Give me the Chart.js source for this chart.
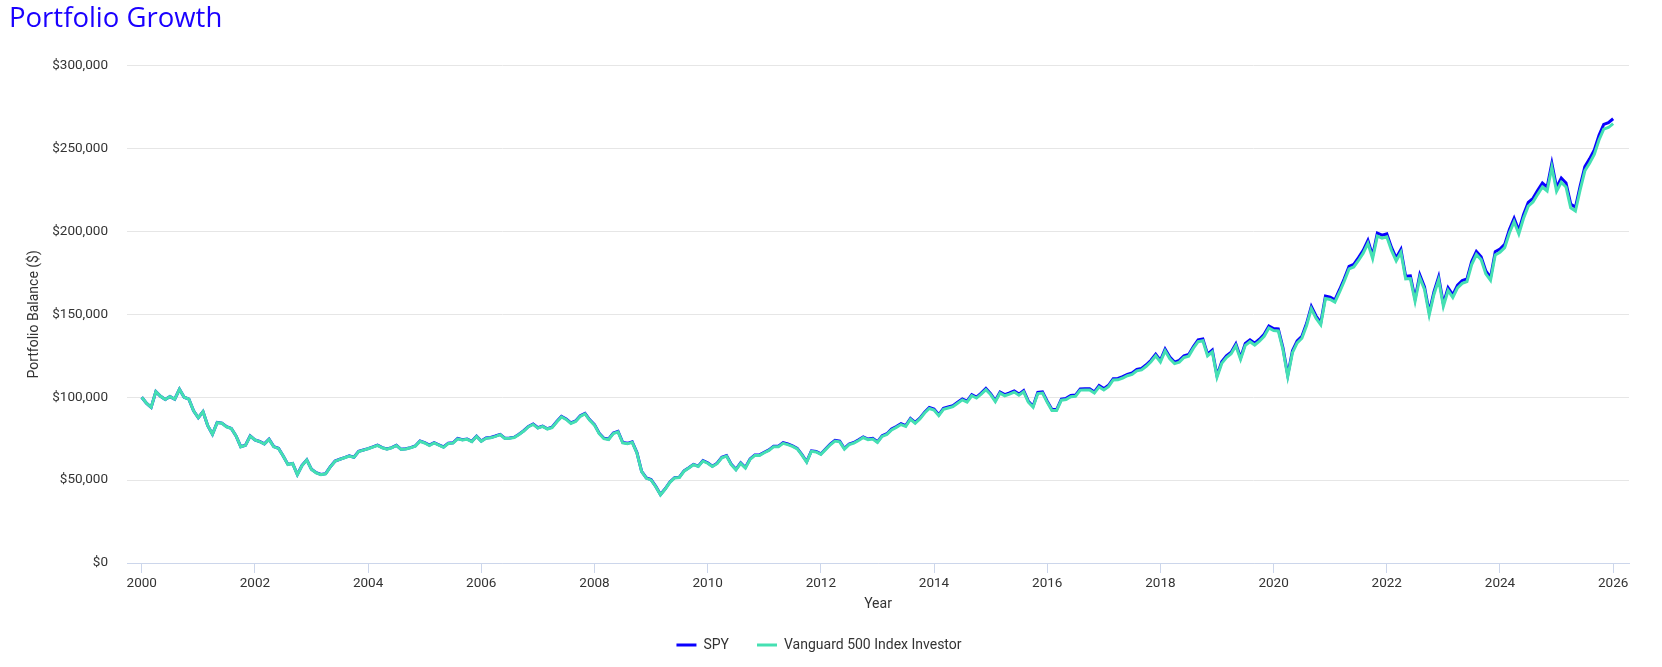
<!DOCTYPE html>
<html>
<head>
<meta charset="utf-8">
<script src="https://cdn.jsdelivr.net/npm/chart.js@4.4.1/dist/chart.umd.min.js"></script>
<style>
  html, body { margin: 0; padding: 0; background: #fff; }
  canvas { display: block; }
</style>
</head>
<body>
<canvas id="growthChart" width="1662" height="667"></canvas>
<script>
// month-end balances, Jan 2000 start -> Dec 2025
const startYear = 2000;
const spyValues = [
  100000, 96400, 93900, 103400, 100600, 98600, 100400, 98800, 104800, 100000, 98800, 91800, 87600,
  91300, 82800, 77700, 84800, 84400, 82200, 81200, 76700, 70200, 71100, 76700, 74300,
  73300, 71900, 74700, 70200, 69200, 64600, 59500, 60100, 53400, 58900, 62200, 56500,
  54500, 53400, 53900, 58100, 61500, 62600, 63600, 64600, 63800, 67400, 68200, 69000,
  70000, 71100, 69600, 68800, 69600, 71000, 68600, 68900, 69600, 70600, 73600, 72600,
  71100, 72600, 71300, 70000, 72300, 72500, 75100, 74400, 74800, 73400, 76500, 73600,
  75400, 75700, 76600, 77600, 75300, 75400, 75900, 77700, 79800, 82400, 83900, 81600,
  82600, 81000, 81900, 85400, 88400, 86900, 84500, 85700, 88800, 90200, 86400, 83500,
  78300, 75300, 74800, 78400, 79400, 72700, 72200, 73100, 66600, 55300, 51300, 50300,
  46200, 41300, 44800, 48900, 51500, 51800, 55600, 57500, 59500, 58400, 61800, 60500,
  58400, 60200, 63800, 64800, 59600, 56500, 60400, 57600, 62800, 65200, 65200, 66800,
  68200, 70500, 70500, 72600, 71800, 70600, 69100, 65400, 61100, 67700, 67300, 65800,
  68800, 71700, 74000, 73500, 69100, 71800, 72700, 74300, 76100, 74800, 75200, 73100,
  76800, 78000, 80800, 82300, 84000, 82900, 87200, 84800, 87400, 91000, 93800, 92900,
  89400, 93300, 94100, 94900, 97000, 99000, 97700, 101500, 100100, 102500, 105300, 102200,
  98000, 103200, 101600, 102600, 103800, 101900, 104000, 97600, 94600, 102900, 103200, 97600,
  92600, 92600, 98900, 99300, 101000, 101300, 105000, 105100, 105100, 103200, 107000, 105200,
  107200, 111200, 111300, 112400, 113800, 114600, 116800, 117400, 119600, 122300, 126000, 122200,
  129000, 124200, 121200, 122200, 125000, 125800, 130600, 134600, 135200, 126000, 128400, 113000,
  121400, 125000, 127200, 132200, 123800, 132400, 134600, 132600, 135000, 138000, 143000, 141400,
  141200, 129600, 113400, 128000, 134000, 136800, 144600, 154800, 149000, 145000, 161000, 160400,
  158800, 165000, 171600, 179000, 180200, 184200, 188600, 194600, 185400, 199000, 197800, 198600,
  190400, 184000, 189200, 173000, 173200, 159400, 173800, 166600, 151200, 163600, 172600, 156400,
  166000, 161800, 167600, 170400, 171400, 181800, 188000, 184800, 176200, 172200, 187800, 189400,
  192200, 201200, 208000, 200600, 210200, 217600, 220000, 224800, 229200, 226800, 241200, 226600,
  232200, 229200, 216600, 214600, 227400, 239200, 243800, 249200, 258000, 264600, 265600, 268000
];
const vfinxValues = [
  100000, 96400, 93900, 103400, 100600, 98600, 100400, 98800, 104800, 100000, 98800, 91800, 87600,
  91300, 82800, 77700, 84700, 84300, 82100, 81100, 76600, 70100, 71000, 76600, 74200,
  73200, 71800, 74600, 70100, 69100, 64500, 59400, 60000, 53300, 58800, 62100, 56400,
  54400, 53300, 53800, 58000, 61400, 62500, 63500, 64500, 63700, 67300, 68100, 68900,
  69900, 71000, 69500, 68700, 69500, 70900, 68500, 68800, 69500, 70500, 73400, 72400,
  70900, 72400, 71100, 69800, 72100, 72300, 74900, 74200, 74600, 73200, 76300, 73400,
  75200, 75500, 76400, 77400, 75100, 75200, 75700, 77500, 79600, 82200, 83600, 81400,
  82400, 80800, 81600, 85100, 88100, 86600, 84200, 85400, 88500, 89900, 86100, 83200,
  78000, 75000, 74500, 78100, 79100, 72400, 71900, 72800, 66400, 55100, 51100, 50100,
  46000, 41100, 44600, 48700, 51300, 51600, 55400, 57300, 59300, 58200, 61500, 60200,
  58200, 59900, 63500, 64500, 59300, 56200, 60100, 57300, 62500, 64900, 64900, 66500,
  67900, 70200, 70200, 72200, 71400, 70300, 68800, 65100, 60800, 67400, 67000, 65500,
  68400, 71300, 73600, 73100, 68700, 71400, 72300, 73900, 75700, 74400, 74800, 72700,
  76400, 77600, 80300, 81800, 83500, 82400, 86700, 84300, 86900, 90500, 93200, 92300,
  88900, 92700, 93500, 94300, 96400, 98400, 97100, 100900, 99500, 101900, 104600, 101600,
  97400, 102500, 100900, 101900, 103100, 101200, 103300, 97000, 94000, 102200, 102500, 96900,
  92000, 92000, 98200, 98600, 100300, 100600, 104300, 104400, 104400, 102500, 106200, 104400,
  106400, 110400, 110500, 111600, 113000, 113800, 115900, 116500, 118700, 121400, 125000, 121300,
  128000, 123200, 120300, 121200, 124000, 124800, 129600, 133500, 134100, 125000, 127400, 112100,
  120400, 124000, 126200, 131100, 122800, 131300, 133500, 131500, 133900, 136800, 141800, 140200,
  140000, 128500, 112400, 126900, 132800, 135600, 143300, 153400, 147700, 143700, 159600, 159000,
  157400, 163500, 170100, 177400, 178600, 182500, 186900, 192800, 183700, 197200, 196000, 196800,
  188600, 182300, 187400, 171400, 171600, 157900, 172100, 165000, 149700, 162000, 170900, 154900,
  164400, 160200, 166000, 168700, 169700, 180000, 186100, 183000, 174400, 170500, 185900, 187500,
  190200, 199100, 205900, 198500, 208000, 215300, 217700, 222400, 226800, 224400, 238700, 224200,
  229700, 226800, 214300, 212300, 225000, 236600, 241200, 246500, 255200, 261700, 262700, 265100
];
const yearTicks = [2000, 2002, 2004, 2006, 2008, 2010, 2012, 2014, 2016, 2018, 2020, 2022, 2024, 2026];
const balanceTicks = [0, 50000, 100000, 150000, 200000, 250000, 300000];

// x position of each month-end point (in years)
function toPoints(values) {
    return values.map((v, i) => ({ x: startYear + i / 12, y: v }));
}

Chart.defaults.font.family = 'Roboto';
Chart.defaults.color = '#333333';

const ctx = document.getElementById('growthChart').getContext('2d');
const chart = new Chart(ctx, {
    type: 'line',
    data: {
        datasets: [{
            label: 'SPY',
            data: toPoints(spyValues),
            borderColor: '#0a00ff',
            backgroundColor: '#0a00ff',
            borderWidth: 3,
            pointRadius: 0,
            tension: 0,
            order: 1
        }, {
            label: 'Vanguard 500 Index Investor',
            data: toPoints(vfinxValues),
            borderColor: '#45e0b2',
            backgroundColor: '#45e0b2',
            borderWidth: 3,
            pointRadius: 0,
            tension: 0,
            order: 0
        }]
    },
    options: {
        responsive: false,
        animation: false,
        layout: { padding: { left: 9, right: 33, top: 0, bottom: 5 } },
        plugins: {
            title: {
                display: true,
                text: 'Portfolio Growth',
                align: 'start',
                color: '#1a00ff',
                font: { family: 'Open Sans', size: 27.5, weight: 'normal' },
                padding: { top: 2.4, bottom: 30.3 }
            },
            legend: {
                position: 'bottom',
                labels: {
                    boxWidth: 20,
                    boxHeight: 3,
                    padding: 28,
                    color: '#333333',
                    font: { size: 14 },
                    sort: (a, b) => a.datasetIndex - b.datasetIndex,
                    generateLabels: function (c) {
                        const items = Chart.defaults.plugins.legend.labels.generateLabels(c);
                        items.forEach(it => { it.lineWidth = 0; it.fillStyle = it.strokeStyle; });
                        return items;
                    }
                }
            },
            tooltip: { enabled: false }
        },
        scales: {
            x: {
                type: 'linear',
                min: 1999.74,
                max: 2026.28,
                afterBuildTicks: s => { s.ticks = yearTicks.map(v => ({ value: v })); },
                afterFit: s => { s.height = 47; },
                ticks: {
                    color: '#333333',
                    font: { size: 13.5 },
                    padding: 3,
                    maxRotation: 0,
                    autoSkip: false,
                    callback: v => String(v)
                },
                grid: {
                    drawOnChartArea: false,
                    drawTicks: true,
                    tickLength: 10,
                    color: '#ccd6eb'
                },
                border: { display: true, color: '#ccd6eb' },
                title: {
                    display: true,
                    text: 'Year',
                    color: '#333333',
                    font: { size: 14, lineHeight: 0.857 },
                    padding: { top: 0, bottom: 0 }
                }
            },
            y: {
                min: 0,
                max: 300000,
                afterBuildTicks: s => { s.ticks = balanceTicks.map(v => ({ value: v })); },
                afterFit: s => { s.width = 118; },
                ticks: {
                    color: '#333333',
                    font: { size: 13.5 },
                    padding: 19,
                    callback: v => '$' + v.toLocaleString('en-US')
                },
                grid: { color: '#e6e6e6', drawTicks: false },
                border: { display: false },
                title: {
                    display: true,
                    text: 'Portfolio Balance ($)',
                    color: '#333333',
                    font: { size: 14 },
                    padding: { top: 16.6, bottom: 0 }
                }
            }
        }
    }
});
</script>
</body>
</html>
